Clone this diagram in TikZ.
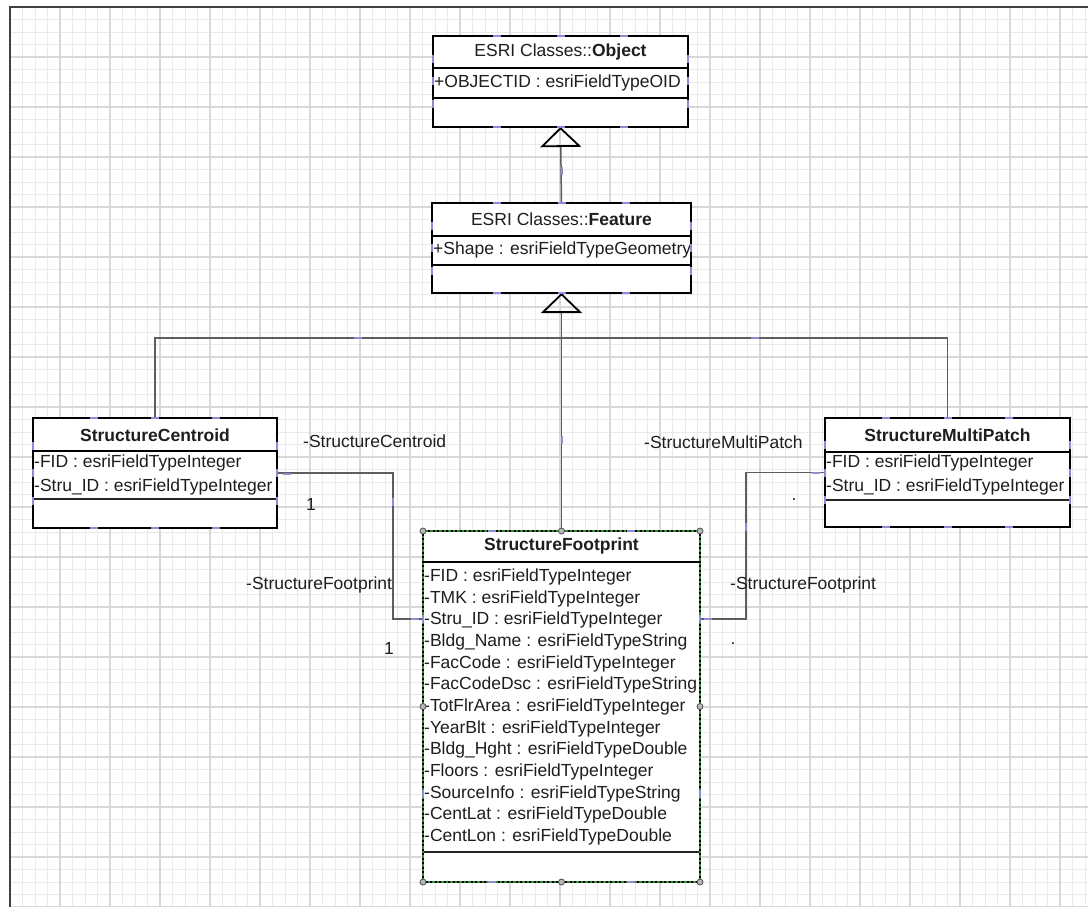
\documentclass[tikz,border=0pt]{standalone}
\usepackage{fontspec}
\setmainfont{Liberation Sans}
\usetikzlibrary{arrows.meta,calc}
\definecolor{txt}{HTML}{1E1E1E}
\definecolor{conn}{HTML}{5E5E5E}
\definecolor{tickc}{RGB}{140,140,215}
\definecolor{selg}{HTML}{2F8A2F}
\definecolor{gridminor}{HTML}{EAEAEA}
\definecolor{gridmajor}{HTML}{D8D8D8}
\tikzset{
 classbox/.style={draw=black, line width=1.8pt, fill=white, inner sep=0pt, outer sep=0pt},
 divider/.style={draw=black, line width=1.8pt},
 thickdiv/.style={draw=black!85, line width=2.8pt},
 ttl/.style={font=\fontsize{17.5}{21}\selectfont, text=txt, inner sep=0pt},
 attr/.style={font=\fontsize{17.5}{21}\selectfont, text=txt, inner sep=0pt, anchor=west},
 lbl/.style={font=\fontsize{17.5}{21}\selectfont, text=txt, inner sep=0pt},
 connector/.style={draw=conn, line width=1.5pt},
 gen/.style={-{Triangle[open, length=20pt, width=41pt, line width=1.8pt, color=black]}},
 tickmark/.style={draw=tickc, line width=1.4pt},
 handle/.style={circle, draw=black!70, fill=gray!55, minimum size=6pt, inner sep=0pt, line width=0.8pt},
}
\begin{document}
\begin{tikzpicture}[x=1pt,y=-1pt]
\useasboundingbox (0,0) rectangle (1088,907);
\fill[white] (0,0) rectangle (1088,907);
% grid
\foreach \i in {0,...,86} {\draw[gridminor, line width=0.9pt] ({10+12.5*\i},7) -- ({10+12.5*\i},907);}
\foreach \i in {0,...,72} {\draw[gridminor, line width=0.9pt] (10,{7+12.5*\i}) -- (1088,{7+12.5*\i});}
\foreach \i in {0,...,21} {\draw[gridmajor, line width=1.1pt] ({10+50*\i},7) -- ({10+50*\i},907);}
\foreach \i in {0,...,18} {\draw[gridmajor, line width=1.1pt] (10,{7+50*\i}) -- (1088,{7+50*\i});}
% frame
\draw[black!75, line width=2pt] (10,907) -- (10,7) -- (1088,7);

% ---- Object
\node[classbox, minimum width=255pt, minimum height=91pt] (obj) at (560.5,81.5) {};
\draw[divider] (433,68) -- (688,68);
\draw[divider] (433,98) -- (688,98);
\node[ttl] (objt) at (560.5,52) {ESRI Classes::\textbf{Object}};
\node[attr] (obja) at (434,83) {+OBJECTID : esriFieldTypeOID};

% ---- Feature
\node[classbox, minimum width=259pt, minimum height=90pt] (feat) at (561.5,248) {};
\draw[divider] (432,236) -- (691,236);
\draw[divider] (432,265) -- (691,265);
\node[ttl] (featt) at (561.5,219) {ESRI Classes::\textbf{Feature}};
\node[attr] (feata) at (433,250) {+Shape : esriFieldTypeGeometry};

% ---- StructureCentroid
\node[classbox, minimum width=244pt, minimum height=110pt] (cent) at (155,473) {};
\draw[divider] (33,451) -- (277,451);
\draw[thickdiv] (33,499) -- (277,499);
\node[ttl] (centt) at (155,435) {\textbf{StructureCentroid}};
\node[attr] (centa1) at (34,463) {-FID : esriFieldTypeInteger};
\node[attr] (centa2) at (34,487) {-Stru\_ID : esriFieldTypeInteger};

% ---- StructureMultiPatch
\node[classbox, minimum width=245pt, minimum height=109pt] (mp) at (947.5,472.5) {};
\draw[divider] (825,452) -- (1070,452);
\draw[thickdiv] (825,500) -- (1070,500);
\node[ttl] (mpt) at (947.5,435) {\textbf{StructureMultiPatch}};
\node[attr] (mpa1) at (826,463) {-FID : esriFieldTypeInteger};
\node[attr] (mpa2) at (826,487) {-Stru\_ID : esriFieldTypeInteger};

% ---- StructureFootprint
\node[classbox, line width=1.2pt, minimum width=277pt, minimum height=351pt] (foot) at (561.5,706.5) {};
\draw[divider] (423,562) -- (700,562);
\draw[thickdiv] (423,852) -- (700,852);
\node[ttl] (foott) at (561.5,546) {\textbf{StructureFootprint}};
\foreach \t [count=\i from 0] in {
 -FID : esriFieldTypeInteger,
 -TMK : esriFieldTypeInteger,
 -Stru\_ID : esriFieldTypeInteger,
 -Bldg\_Name : esriFieldTypeString,
 -FacCode : esriFieldTypeInteger,
 -FacCodeDsc : esriFieldTypeString,
 -TotFlrArea : esriFieldTypeInteger,
 -YearBlt : esriFieldTypeInteger,
 -Bldg\_Hght : esriFieldTypeDouble,
 -Floors : esriFieldTypeInteger,
 -SourceInfo : esriFieldTypeString,
 -CentLat : esriFieldTypeDouble,
 -CentLon : esriFieldTypeDouble}
 {\node[attr] (fa\i) at (424,{577+21.67*\i}) {\t};}
\draw[selg, line width=1.8pt, dash pattern=on 2.5pt off 2pt] (foot.north west) rectangle (foot.south east);

% ---- connectors
\draw[connector, gen] (feat.north) -- (obj.south);
\draw[connector, gen] (foot.north) -- (feat.south);
\draw[connector] (cent.north) -- ++(0,-80) -| (mp.north);
\draw[connector] (cent.east) -- ++(116,0) |- ([yshift=87.5pt]foot.west);
\draw[connector] (mp.west) -- ++(-79,0) |- ([yshift=87.5pt]foot.east);

% ---- labels
\node[lbl, anchor=west] (l1) at (303,441) {-StructureCentroid};
\node[lbl] (l2) at (311,504) {1};
\node[lbl, anchor=west] (l3) at (246,585) {-StructureFootprint};
\node[lbl] (l4) at (389,648) {1};
\node[lbl, anchor=west] (l5) at (644,442) {-StructureMultiPatch};
\node[lbl] (l6) at (794,500) {.};
\node[lbl, anchor=west] (l7) at (730,585) {-StructureFootprint};
\node[lbl] (l8) at (733,644) {.};

% ---- selection handles
\foreach \a [count=\i] in {north west, north, north east, west, east, south west, south, south east}
 {\node[handle] (h\i) at (foot.\a) {};}

% ---- connection point marks
\foreach \n in {obj,feat,cent,mp} {
 \foreach \f in {0.25,0.5,0.75} {
  \draw[tickmark] ($(\n.north west)!\f!(\n.north east)$) +(-4,0) -- +(4,0);
  \draw[tickmark] ($(\n.south west)!\f!(\n.south east)$) +(-4,0) -- +(4,0);
  \draw[tickmark] ($(\n.north west)!\f!(\n.south west)$) +(0,-4) -- +(0,4);
  \draw[tickmark] ($(\n.north east)!\f!(\n.south east)$) +(0,-4) -- +(0,4);
 }}
\foreach \f in {0.25,0.75} {
  \draw[tickmark] ($(foot.north west)!\f!(foot.north east)$) +(-4,0) -- +(4,0);
  \draw[tickmark] ($(foot.south west)!\f!(foot.south east)$) +(-4,0) -- +(4,0);
  \draw[tickmark] ($(foot.north west)!\f!(foot.south west)$) +(0,-4) -- +(0,4);
  \draw[tickmark] ($(foot.north east)!\f!(foot.south east)$) +(0,-4) -- +(0,4);
}
\draw[tickmark] (562,171) +(0,-4) -- +(0,4);
\draw[tickmark] (562,440) +(0,-4) -- +(0,4);
\draw[tickmark] (358,338) +(-4,0) -- +(4,0);
\draw[tickmark] (755,338) +(-4,0) -- +(4,0);
\draw[tickmark] (393,502) +(0,-4) -- +(0,4);
\draw[tickmark] (287,474) +(-4,0) -- +(4,0);
\draw[tickmark] (415,619) +(-4,0) -- +(4,0);
\draw[tickmark] (746,527) +(0,-4) -- +(0,4);
\draw[tickmark] (816,473) +(-4,0) -- +(4,0);
\draw[tickmark] (708,619) +(-4,0) -- +(4,0);
\end{tikzpicture}
\end{document}
